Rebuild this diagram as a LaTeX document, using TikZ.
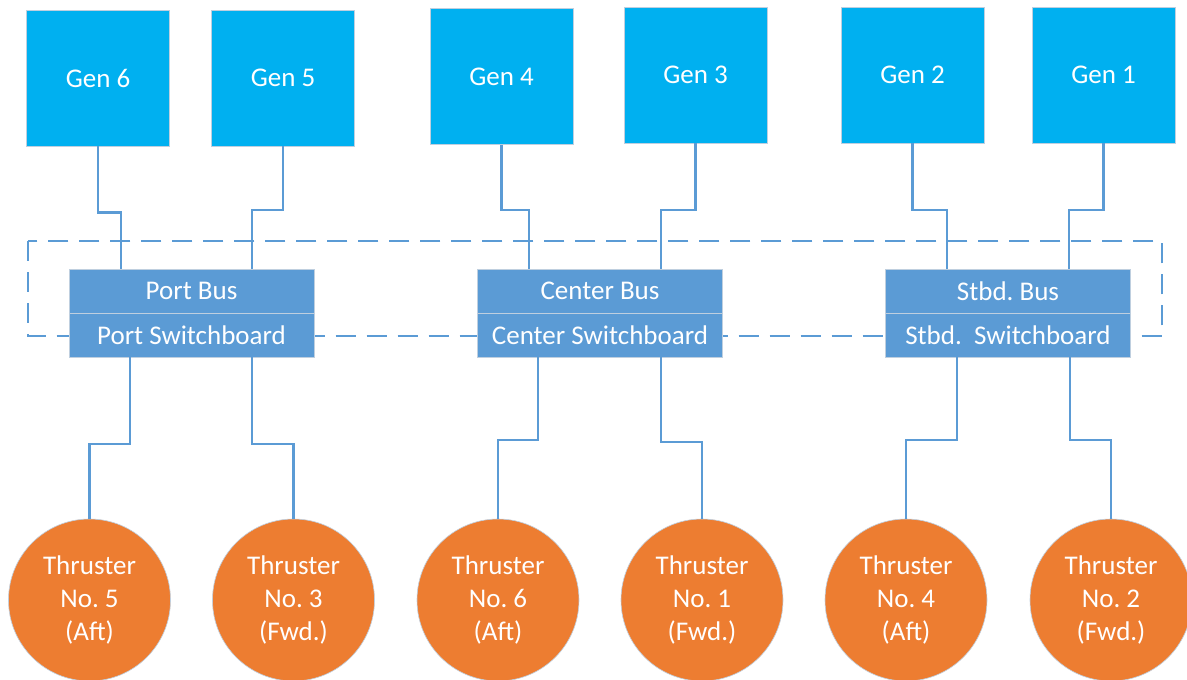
\documentclass[tikz,border=0pt]{standalone}
\usepackage{fontspec}
\setmainfont{Carlito}
\frenchspacing
\definecolor{genblue}{HTML}{00B0F0}
\definecolor{busblue}{HTML}{5B9BD5}
\definecolor{thrust}{HTML}{ED7D31}
\definecolor{edgegray}{HTML}{BFCFDF}
\tikzset{
  genbox/.style={draw=edgegray, line width=0.8pt, fill=genblue, minimum width=143pt, minimum height=136pt, inner sep=0pt, text=white, font=\fontsize{27}{33}\selectfont},
  busbox/.style={draw=edgegray, line width=0.8pt, fill=busblue, minimum width=245pt, minimum height=44pt, inner sep=0pt, text=white, font=\fontsize{27}{33}\selectfont},
  thrbox/.style={circle, draw=edgegray, line width=0.6pt, fill=thrust, minimum size=162pt, inner sep=0pt, text=white, align=center, font=\fontsize{27}{33}\selectfont},
  conn/.style={draw=busblue, line width=2.2pt},
  group/.style={draw=busblue, line width=2pt, dash pattern=on 20pt off 11pt}
}
\begin{document}
\begin{tikzpicture}[x=1pt,y=-1pt]
\fill[white] (0,0) rectangle (1187,680);
\useasboundingbox (0,0) rectangle (1187,680);

% dashed grouping rectangle
\draw[group] (27.7,241) rectangle (1162,336);

% generators
\node[genbox] (g6) at (98,78) {Gen 6};
\node[genbox] (g5) at (283,78) {Gen 5};
\node[genbox] (g4) at (501.5,76.5) {Gen 4};
\node[genbox] (g3) at (695.5,75) {Gen 3};
\node[genbox] (g2) at (912.5,75) {Gen 2};
\node[genbox] (g1) at (1103.5,75) {Gen 1};

% buses and switchboards
\node[busbox] (pb) at (191.5,291) {Port Bus};
\node[busbox] (ps) at (191.5,335) {Port Switchboard};
\node[busbox] (cb) at (600,291) {Center Bus};
\node[busbox] (cs) at (600,335) {Center Switchboard};
\node[busbox] (sb) at (1008,291) {Stbd.\ Bus};
\node[busbox] (ss) at (1008,335) {Stbd.~\ Switchboard};

% thrusters
\node[thrbox] (t5) at (89.5,600) {Thruster\\No. 5\\(Aft)};
\node[thrbox] (t3) at (293.5,600) {Thruster\\No. 3\\(Fwd.)};
\node[thrbox] (t6) at (498,600) {Thruster\\No. 6\\(Aft)};
\node[thrbox] (t1) at (702,600) {Thruster\\No. 1\\(Fwd.)};
\node[thrbox] (t4) at (906,600) {Thruster\\No. 4\\(Aft)};
\node[thrbox] (t2) at (1111,600) {Thruster\\No. 2\\(Fwd.)};

% turn points
\coordinate (j6) at (121,212.5);
\coordinate (j5) at (252,210);
\coordinate (j4) at (529,210);
\coordinate (j3) at (661,210);
\coordinate (j2) at (947,210);
\coordinate (j1) at (1069,210);
\coordinate (k5) at (130,444);
\coordinate (k3) at (252,444);
\coordinate (k6) at (538,440);
\coordinate (k1) at (661,442);
\coordinate (k4) at (957,440);
\coordinate (k2) at (1070,440);

% generator connectors
\draw[conn] (g6.south) |- (j6) -- (j6 |- pb.north);
\draw[conn] (g5.south) |- (j5) -- (j5 |- pb.north);
\draw[conn] (g4.south) |- (j4) -- (j4 |- cb.north);
\draw[conn] (g3.south) |- (j3) -- (j3 |- cb.north);
\draw[conn] (g2.south) |- (j2) -- (j2 |- sb.north);
\draw[conn] (g1.south) |- (j1) -- (j1 |- sb.north);

% thruster connectors
\draw[conn] (ps.south -| k5) |- (t5.north |- k5) -- (t5.north);
\draw[conn] (ps.south -| k3) |- (t3.north |- k3) -- (t3.north);
\draw[conn] (cs.south -| k6) |- (t6.north |- k6) -- (t6.north);
\draw[conn] (cs.south -| k1) |- (t1.north |- k1) -- (t1.north);
\draw[conn] (ss.south -| k4) |- (t4.north |- k4) -- (t4.north);
\draw[conn] (ss.south -| k2) |- (t2.north |- k2) -- (t2.north);
\end{tikzpicture}
\end{document}
